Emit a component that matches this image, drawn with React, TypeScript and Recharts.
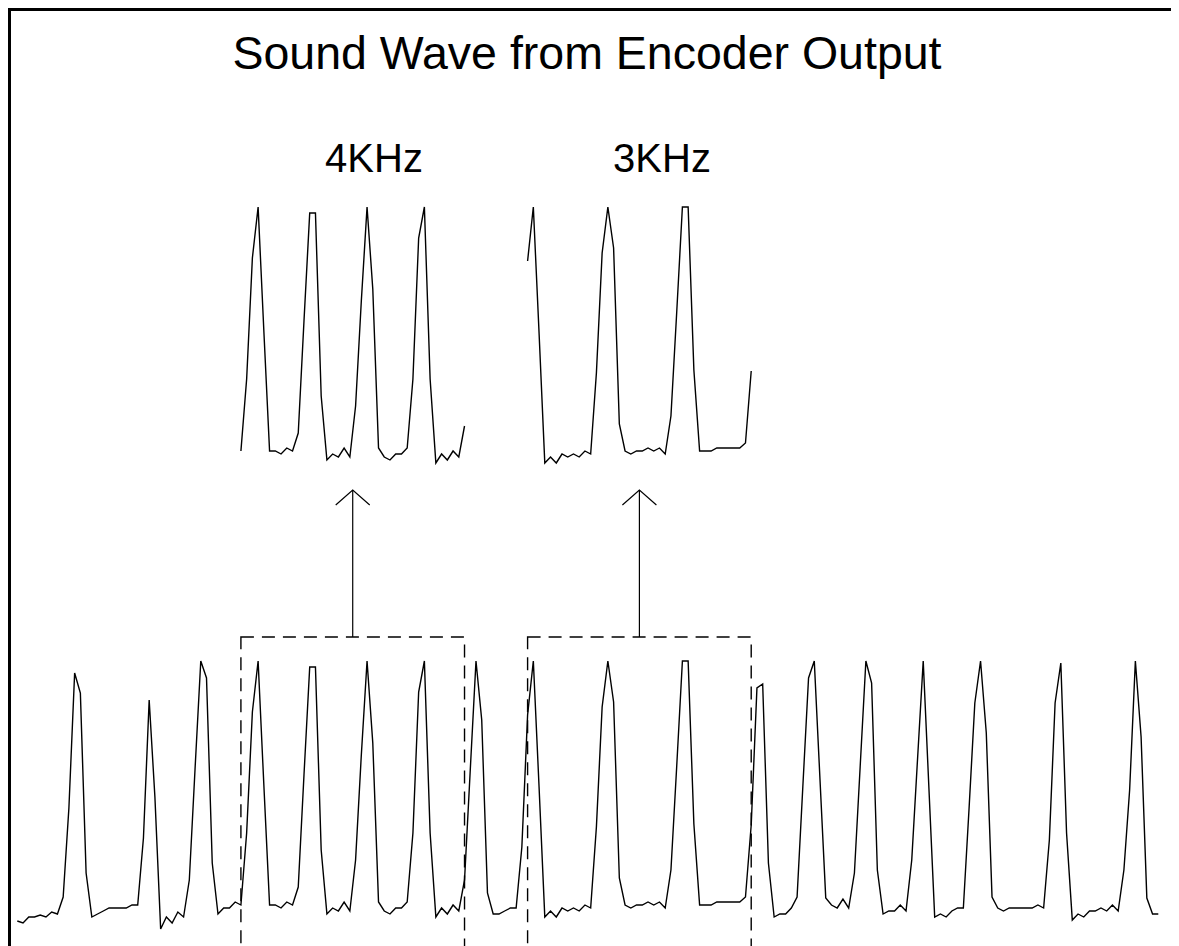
import React from 'react';
import { LineChart, Line, XAxis, YAxis, ReferenceArea, ReferenceLine } from 'recharts';

// Encoder output, one value per sample
const encoderOutput = [
  14, 12, 18, 18, 20, 18, 23, 21, 38, 127,
  262, 242, 62, 18, 21, 24, 27, 27, 27, 27,
  30, 30, 97, 235, 138, 6, 18, 12, 23, 18,
  55, 166, 274, 257, 72, 21, 27, 27, 33, 30,
  102, 223, 274, 150, 30, 30, 27, 33, 30, 48,
  160, 268, 268, 85, 21, 27, 24, 33, 24, 75,
  180, 274, 192, 33, 24, 21, 27, 27, 33, 102,
  243, 274, 102, 18, 27, 21, 30, 24, 55, 165,
  274, 215, 42, 21, 21, 24, 27, 27, 88, 220,
  274, 148, 18, 24, 18, 27, 24, 27, 24, 30,
  27, 108, 228, 274, 233, 57, 30, 27, 30, 30,
  33, 30, 33, 27, 65, 168, 274, 274, 111, 30,
  30, 30, 33, 33, 33, 33, 33, 38, 110, 247,
  251, 72, 18, 21, 21, 27, 38, 148, 257, 274,
  155, 37, 30, 27, 36, 27, 62, 168, 274, 252,
  65, 21, 24, 24, 30, 24, 75, 175, 274, 146,
  18, 21, 18, 24, 27, 27, 127, 232, 274, 202,
  38, 27, 24, 27, 27, 27, 27, 27, 30, 27,
  95, 232, 272, 102, 15, 21, 18, 24, 24, 27,
  24, 30, 24, 65, 145, 274, 198, 37, 21, 21,
];

// sample windows that are blown up above the trace
const zoom4kRange = [39, 78];
const zoom3kRange = [89, 128];
const zoomLabels = ['4KHz', '3KHz'];
const chartTitle = 'Sound Wave from Encoder Output';

const inRange = (i: number, r: number[]) => i >= r[0] && i <= r[1];

const data = encoderOutput.map((v, i) => ({
  sample: i,
  wave: v,
  zoom4k: inRange(i, zoom4kRange) ? v : null,
  zoom3k: inRange(i, zoom3kRange) ? v : null,
}));

const FONT = '"Liberation Sans", Arial, Helvetica, sans-serif';

const Arrow = (props: any) => {
  const { x1, y1, x2, y2 } = props;
  return (
    <g>
      <line x1={x1} y1={y1} x2={x2} y2={y2} stroke="#000" strokeWidth={1.2} />
      <polyline
        points={`${x2 - 17},${y2 + 15} ${x2},${y2} ${x2 + 17},${y2 + 15}`}
        fill="none"
        stroke="#000"
        strokeWidth={1.2}
      />
    </g>
  );
};

export default function App() {
  const mid4k = (zoom4kRange[0] + zoom4kRange[1]) / 2;
  const mid3k = (zoom3kRange[0] + zoom3kRange[1]) / 2;

  return (
    <div style={{ position: 'relative', width: 1171, height: 938, overflow: 'hidden', background: '#fff' }}>
      <style>{'body{overflow:hidden}'}</style>
      <div
        style={{
          position: 'absolute',
          left: 0,
          top: 0,
          width: 1400,
          height: 1200,
          border: '3px solid #000',
          boxSizing: 'border-box',
        }}
      />
      <div style={{ position: 'absolute', left: 0, top: 0 }}>
        <LineChart
          width={1171}
          height={938}
          data={data}
          margin={{ top: 199, right: 20.7, bottom: 11, left: 9.3 }}
        >
          <XAxis dataKey="sample" type="number" domain={[0, 199]} hide />
          <YAxis yAxisId="main" domain={[0, 728]} hide />
          <YAxis yAxisId="zoom" domain={[-454, 274]} hide />

          <ReferenceArea
            yAxisId="main"
            x1={zoom4kRange[0]}
            x2={zoom4kRange[1]}
            y1={-20}
            y2={298}
            ifOverflow="visible"
            fill="none"
            fillOpacity={0}
            stroke="#000"
            strokeWidth={1.4}
            strokeDasharray="13 8"
          />
          <ReferenceArea
            yAxisId="main"
            x1={zoom3kRange[0]}
            x2={zoom3kRange[1]}
            y1={-20}
            y2={298}
            ifOverflow="visible"
            fill="none"
            fillOpacity={0}
            stroke="#000"
            strokeWidth={1.4}
            strokeDasharray="13 8"
          />
          <ReferenceLine
            yAxisId="main"
            segment={[{ x: mid4k, y: 298 }, { x: mid4k, y: 445 }]}
            ifOverflow="visible"
            stroke="#000"
            shape={Arrow}
          />
          <ReferenceLine
            yAxisId="main"
            segment={[{ x: mid3k, y: 298 }, { x: mid3k, y: 445 }]}
            ifOverflow="visible"
            stroke="#000"
            shape={Arrow}
          />

          <Line
            yAxisId="main"
            type="linear"
            dataKey="wave"
            stroke="#000"
            strokeWidth={1.4}
            dot={false}
            isAnimationActive={false}
          />
          <Line
            yAxisId="zoom"
            type="linear"
            dataKey="zoom4k"
            stroke="#000"
            strokeWidth={1.4}
            dot={false}
            connectNulls={false}
            isAnimationActive={false}
          />
          <Line
            yAxisId="zoom"
            type="linear"
            dataKey="zoom3k"
            stroke="#000"
            strokeWidth={1.4}
            dot={false}
            connectNulls={false}
            isAnimationActive={false}
          />
        </LineChart>
      </div>
      <svg
        width={1171}
        height={938}
        style={{ position: 'absolute', left: 0, top: 0, pointerEvents: 'none' }}
      >
        <text x={579} y={61} textAnchor="middle" fontFamily={FONT} fontSize={46.5} fill="#000">
          {chartTitle}
        </text>
        <text x={366} y={164} textAnchor="middle" fontFamily={FONT} fontSize={40} fill="#000">
          {zoomLabels[0]}
        </text>
        <text x={654} y={164} textAnchor="middle" fontFamily={FONT} fontSize={40} fill="#000">
          {zoomLabels[1]}
        </text>
      </svg>
    </div>
  );
}
